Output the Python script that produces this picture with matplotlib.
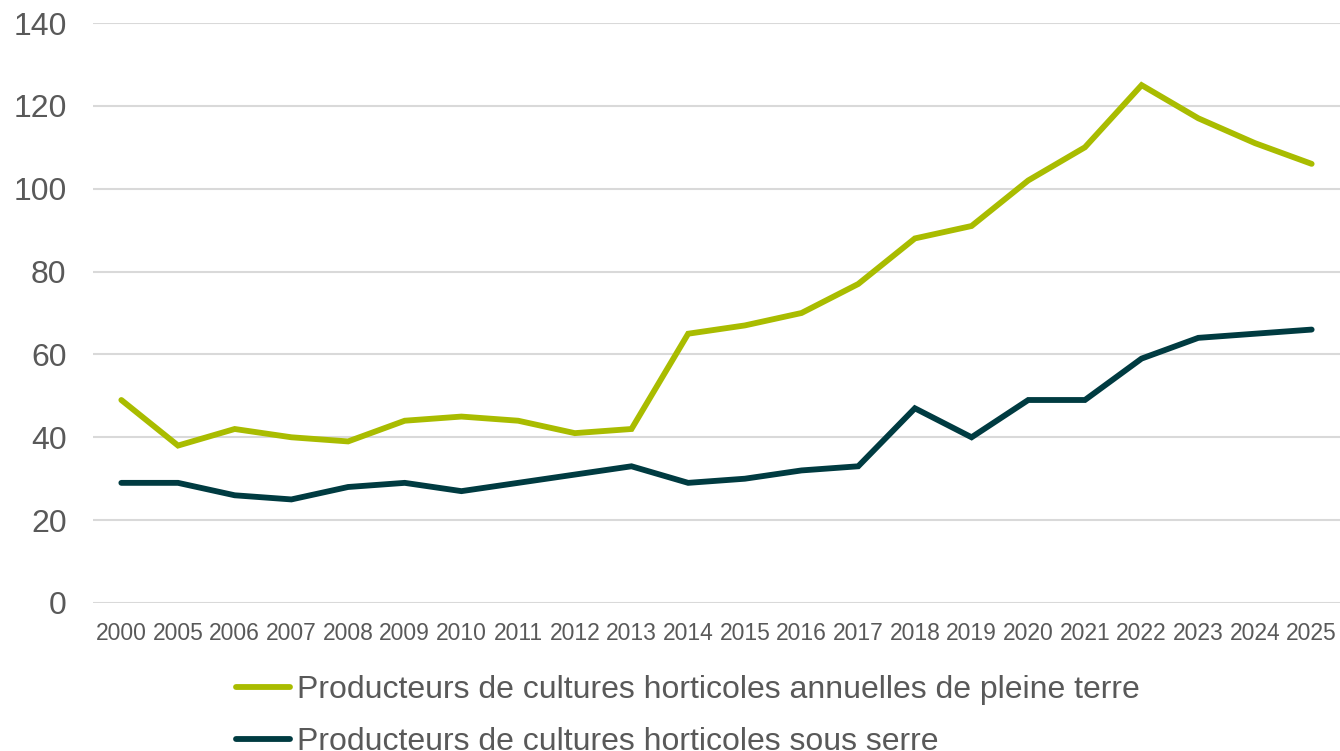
import matplotlib
matplotlib.use("Agg")
import matplotlib.pyplot as plt
import numpy as np

plt.rcParams['font.family'] = ['Liberation Sans', 'DejaVu Sans']

years = ['2000', '2005', '2006', '2007', '2008', '2009', '2010', '2011', '2012', '2013', '2014',
         '2015', '2016', '2017', '2018', '2019', '2020', '2021', '2022', '2023', '2024', '2025']
pleine_terre = [49, 38, 42, 40, 39, 44, 45, 44, 41, 42, 65, 67, 70, 77, 88, 91, 102, 110, 125, 117, 111, 106]
sous_serre = [29, 29, 26, 25, 28, 29, 27, 29, 31, 33, 29, 30, 32, 33, 47, 40, 49, 49, 59, 64, 65, 66]
labels = ['Producteurs de cultures horticoles annuelles de pleine terre',
          'Producteurs de cultures horticoles sous serre']
colors = ['#A9BC00', '#003B41']
yticks = [0, 20, 40, 60, 80, 100, 120, 140]

txt = '#595959'
grid = '#D9D9D9'

fig = plt.figure(figsize=(13.4, 7.51), dpi=100)
ax = fig.add_axes([93 / 1340, 1 - 603 / 751, 1 - 93 / 1340, (603 - 23) / 751])

x = np.arange(len(years))
for vals, lab, c in zip([pleine_terre, sous_serre], labels, colors):
    ax.plot(x, vals, color=c, lw=4.2, label=lab, solid_capstyle='round', solid_joinstyle='miter')

ax.set_xlim(-0.5, len(years) - 0.5)
ax.set_ylim(0, 140)
ax.set_yticks(yticks)
ax.set_xticks(x)
ax.set_xticklabels(years)
ax.grid(axis='y', color=grid, lw=1.5)
ax.set_axisbelow(True)
for s in ax.spines.values():
    s.set_visible(False)
ax.tick_params(axis='both', length=0, colors=txt)
ax.tick_params(axis='y', labelsize=23, pad=19)
ax.tick_params(axis='x', labelsize=16.5, pad=14)

leg = fig.legend(loc='upper left', bbox_to_anchor=(236 / 1340, 1 - 675 / 751),
                 frameon=False, fontsize=23, handlelength=1.7, handletextpad=0.2,
                 labelspacing=0.68, borderpad=0, borderaxespad=0)
for t in leg.get_texts():
    t.set_color(txt)

fig.savefig('out.png', dpi=100)
